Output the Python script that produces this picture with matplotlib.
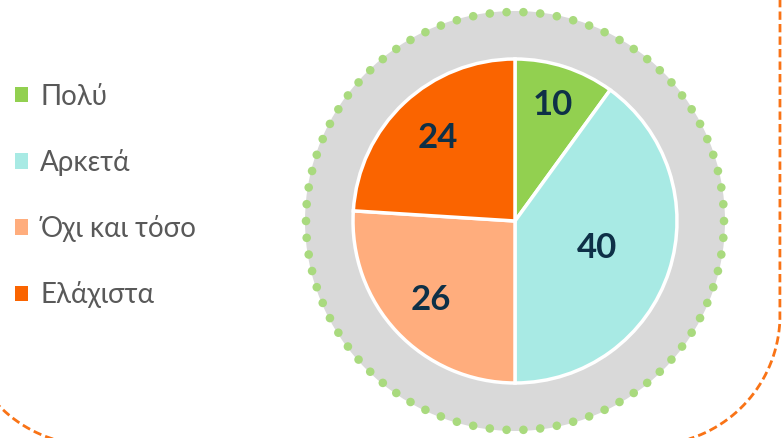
import numpy as np
import matplotlib.pyplot as plt
from matplotlib.patches import Circle, Patch

labels = ['Πολύ', 'Αρκετά', 'Όχι και τόσο', 'Ελάχιστα']
values = [10, 40, 26, 24]
colors = ['#92D050', '#A8EAE4', '#FFAD7D', '#FA6400']
label_radius = [0.75, 0.53, 0.71, 0.70]

plt.rcParams['font.family'] = ['Lato', 'DejaVu Sans']

fig = plt.figure(figsize=(7.82, 4.38), dpi=100)
ax = fig.add_axes([0, 0, 1, 1])

cx, cy = 515, 221


def rounded_rect(x0, y0, x1, y1, r, n=40):
    # outline of a rounded rectangle, corners traced clockwise on screen
    pts = []
    corners = [(x1 - r, y0 + r, -90, 0), (x1 - r, y1 - r, 0, 90),
               (x0 + r, y1 - r, 90, 180), (x0 + r, y0 + r, 180, 270)]
    for ccx, ccy, a0, a1 in corners:
        t = np.deg2rad(np.linspace(a0, a1, n))
        pts.append(np.column_stack([ccx + r * np.cos(t), ccy + r * np.sin(t)]))
    pts = np.vstack(pts + [pts[0][:1]])
    return pts[:, 0], pts[:, 1]


# dashed frame around the panel
fx, fy = rounded_rect(-38, -250, 780, 445, 130)
ax.plot(fx, fy, color='#F97316', linewidth=2, linestyle=(0, (3, 1.5)), zorder=1)

# grey ring with dotted rim
ax.add_patch(Circle((cx, cy), 210, facecolor='#D9D9D9', edgecolor='none', zorder=2))
n_dots = 78
theta = np.linspace(0, 2 * np.pi, n_dots, endpoint=False)
ax.scatter(cx + 209 * np.cos(theta), cy + 209 * np.sin(theta), s=38,
           color='#A9DA7E', edgecolors='none', zorder=3)

# y axis runs downward, so start at -90 and go counterclockwise in data terms
wedges, _ = ax.pie(values, colors=colors, startangle=-90, counterclock=True,
                   center=(cx, cy), radius=162,
                   wedgeprops=dict(edgecolor='white', linewidth=2.5))
for w in wedges:
    w.set_zorder(4)

# value labels inside the slices
for w, v, r in zip(wedges, values, label_radius):
    ang = np.deg2rad((w.theta1 + w.theta2) / 2)
    ax.text(cx + r * 162 * np.cos(ang), cy + r * 162 * np.sin(ang), str(v),
            ha='center', va='center', fontsize=25, fontweight='bold',
            color='#0E3047', zorder=5)

ax.set_xlim(0, 782)
ax.set_ylim(438, 0)
ax.set_aspect('equal')
ax.axis('off')

handles = [Patch(facecolor=c, edgecolor='none') for c in colors]
fig.legend(handles, labels, loc='upper left', bbox_to_anchor=(0.0, 0.844),
           frameon=False, fontsize=20, handlelength=0.47, handleheight=0.47,
           handletextpad=0.43, labelspacing=1.41, borderaxespad=0,
           borderpad=0.55, labelcolor='#595959')

fig.savefig('out.png', dpi=100)
